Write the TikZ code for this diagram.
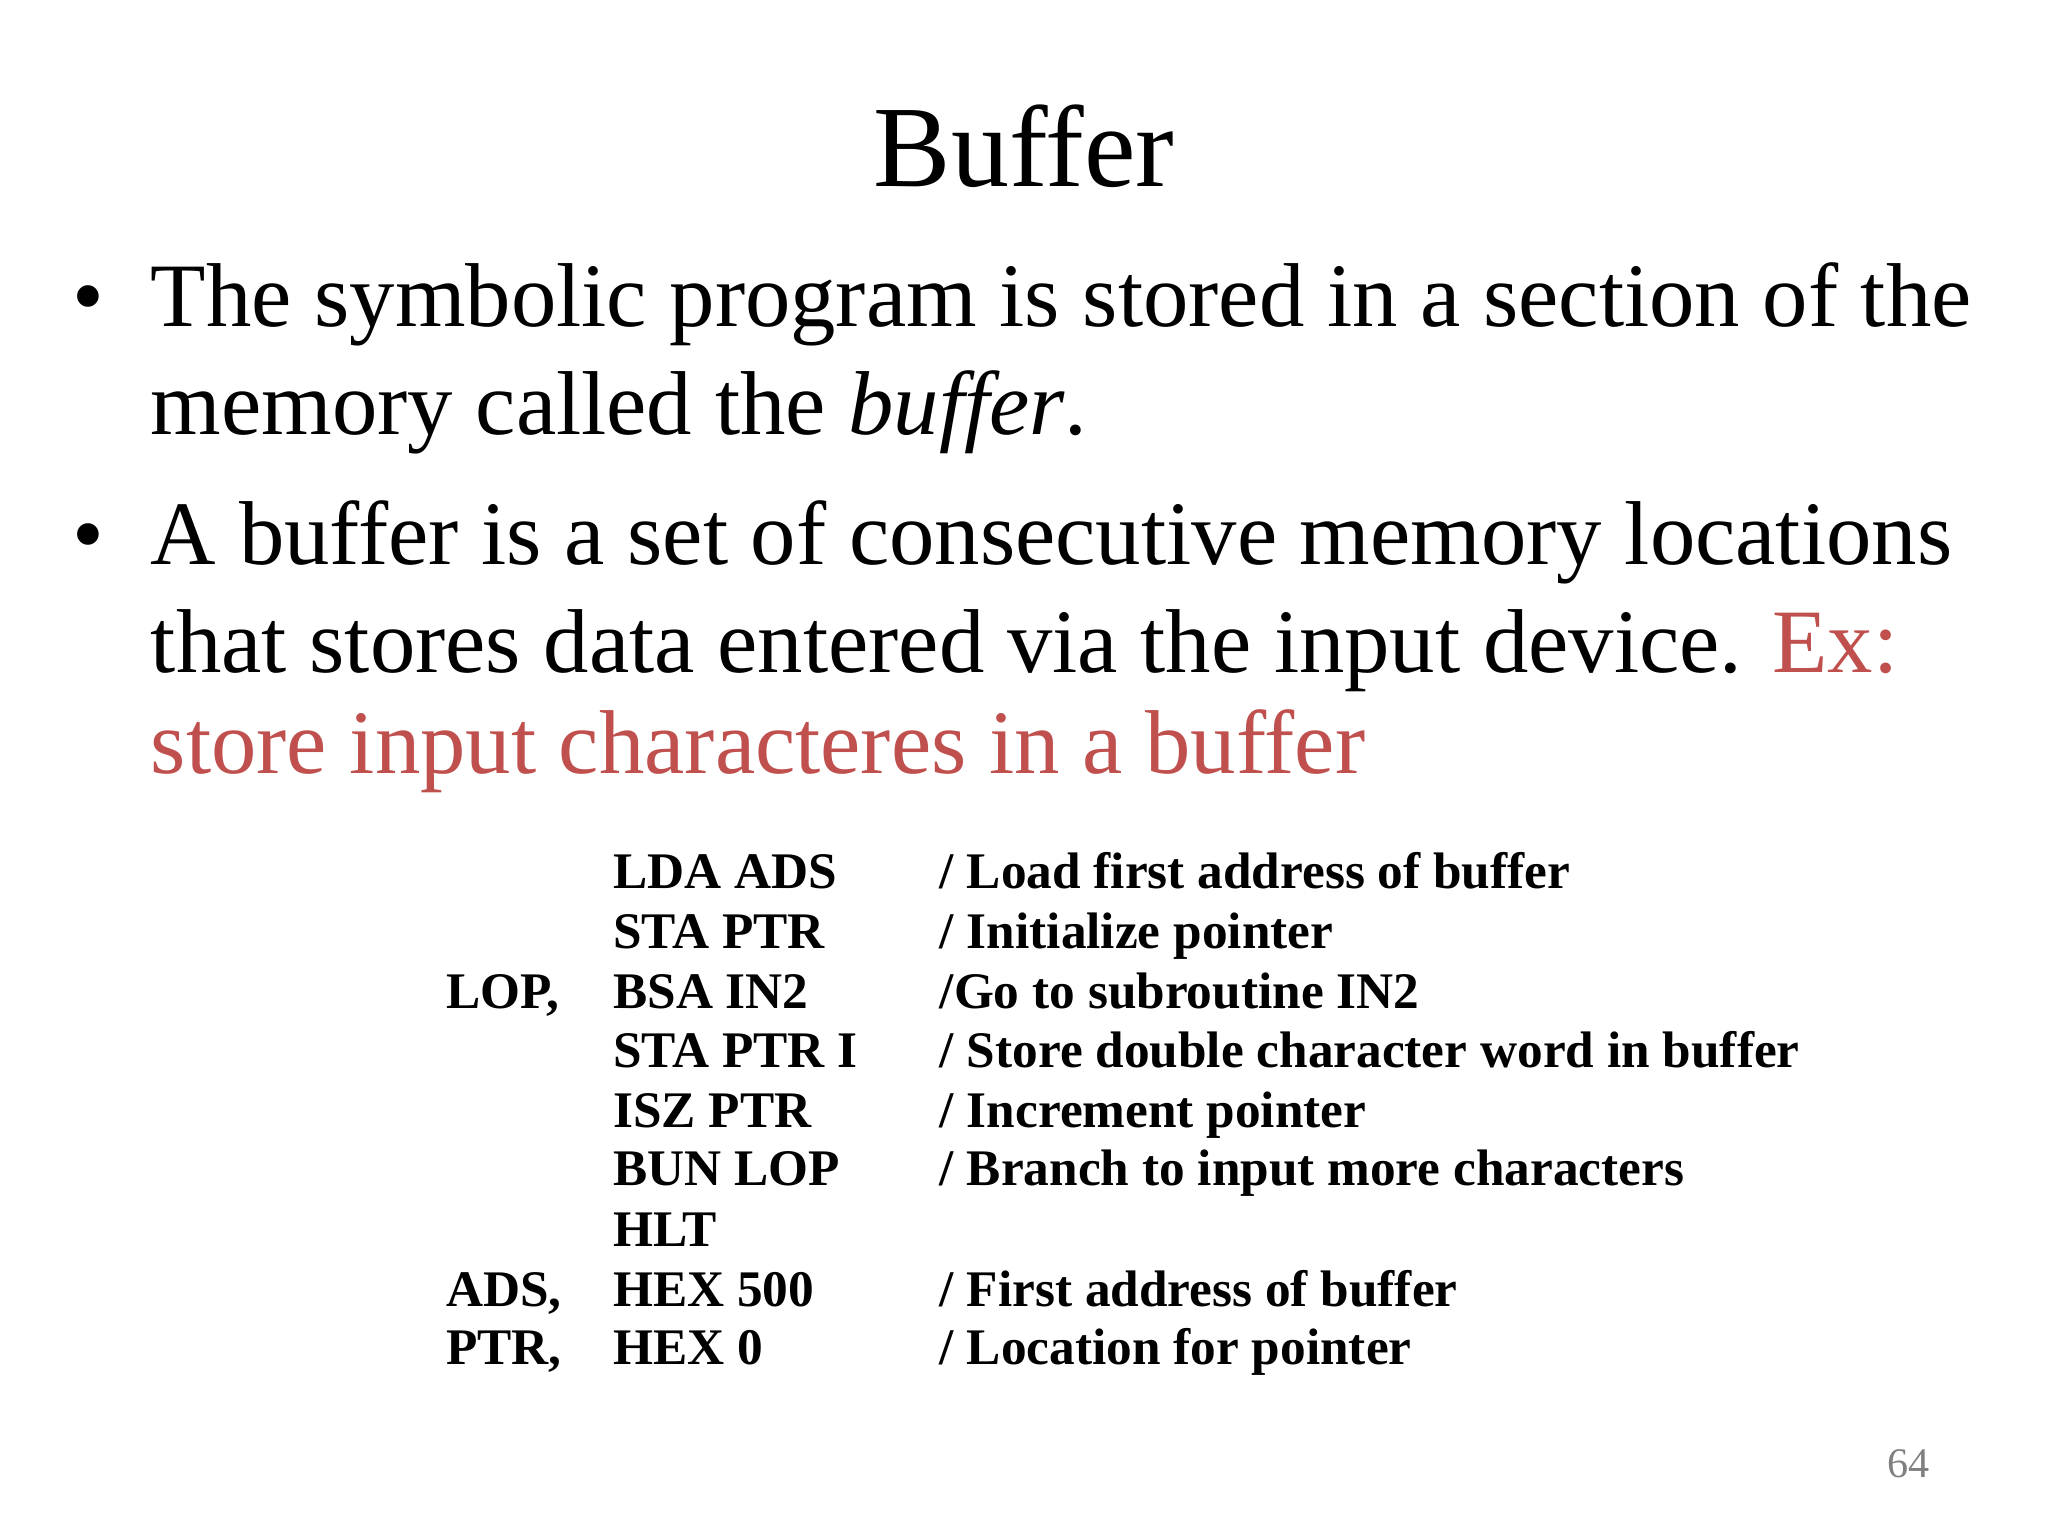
\documentclass[tikz,border=0pt]{standalone}
\usepackage{fontspec}
\setmainfont{Liberation Serif}
\definecolor{exred}{HTML}{C0504D}
\begin{document}
\begin{tikzpicture}[x=0.013061cm,y=-0.013061cm,
  title/.style={anchor=base,font=\fontsize{33}{40}\selectfont},
  body/.style={anchor=base west,inner sep=0,font=\fontsize{25.8}{31}\selectfont},
  code/.style={anchor=base west,inner sep=0,font=\fontsize{14.6}{17}\selectfont\bfseries}]
\useasboundingbox (0,0) rectangle (1568,1176);
\node[title] (t) at (784,143) {Buffer};
\node[body] (b1) at (55,250) {\textbullet};
\node[body] (l1) at (115,250) {The symbolic program is stored in a section of the};
\node[body] (l2) at (115,333) {memory called the \textit{buffer}.};
\node[body] (b2) at (55,432) {\textbullet};
\node[body] (l3) at (115,432) {A buffer is a set of consecutive memory locations};
\node[body] (l4) at (115,515) {that stores data entered via the input device. \textcolor{exred}{Ex:}};
\node[body,text=exred] (l5) at (115,592) {store input characteres in a buffer};
\node[code] (in1) at (469,680) {LDA ADS};
\node[code] (cm1) at (719,680) {/ Load first address of buffer};
\node[code] (in2) at (469,726) {STA PTR};
\node[code] (cm2) at (719,726) {/ Initialize pointer};
\node[code] (la3) at (341,772) {LOP,};
\node[code] (in3) at (469,772) {BSA IN2};
\node[code] (cm3) at (719,772) {/Go to subroutine IN2};
\node[code] (in4) at (469,817) {STA PTR I};
\node[code] (cm4) at (719,817) {/ Store double character word in buffer};
\node[code] (in5) at (469,863) {ISZ PTR};
\node[code] (cm5) at (719,863) {/ Increment pointer};
\node[code] (in6) at (469,908) {BUN LOP};
\node[code] (cm6) at (719,908) {/ Branch to input more characters};
\node[code] (in7) at (469,954) {HLT};
\node[code] (la8) at (341,1000) {ADS,};
\node[code] (in8) at (469,1000) {HEX 500};
\node[code] (cm8) at (719,1000) {/ First address of buffer};
\node[code] (la9) at (341,1045) {PTR,};
\node[code] (in9) at (469,1045) {HEX 0};
\node[code] (cm9) at (719,1045) {/ Location for pointer};
\node[anchor=base,text=gray,font=\fontsize{12}{14}\selectfont] (pg) at (1461,1131) {64};
\end{tikzpicture}
\end{document}
